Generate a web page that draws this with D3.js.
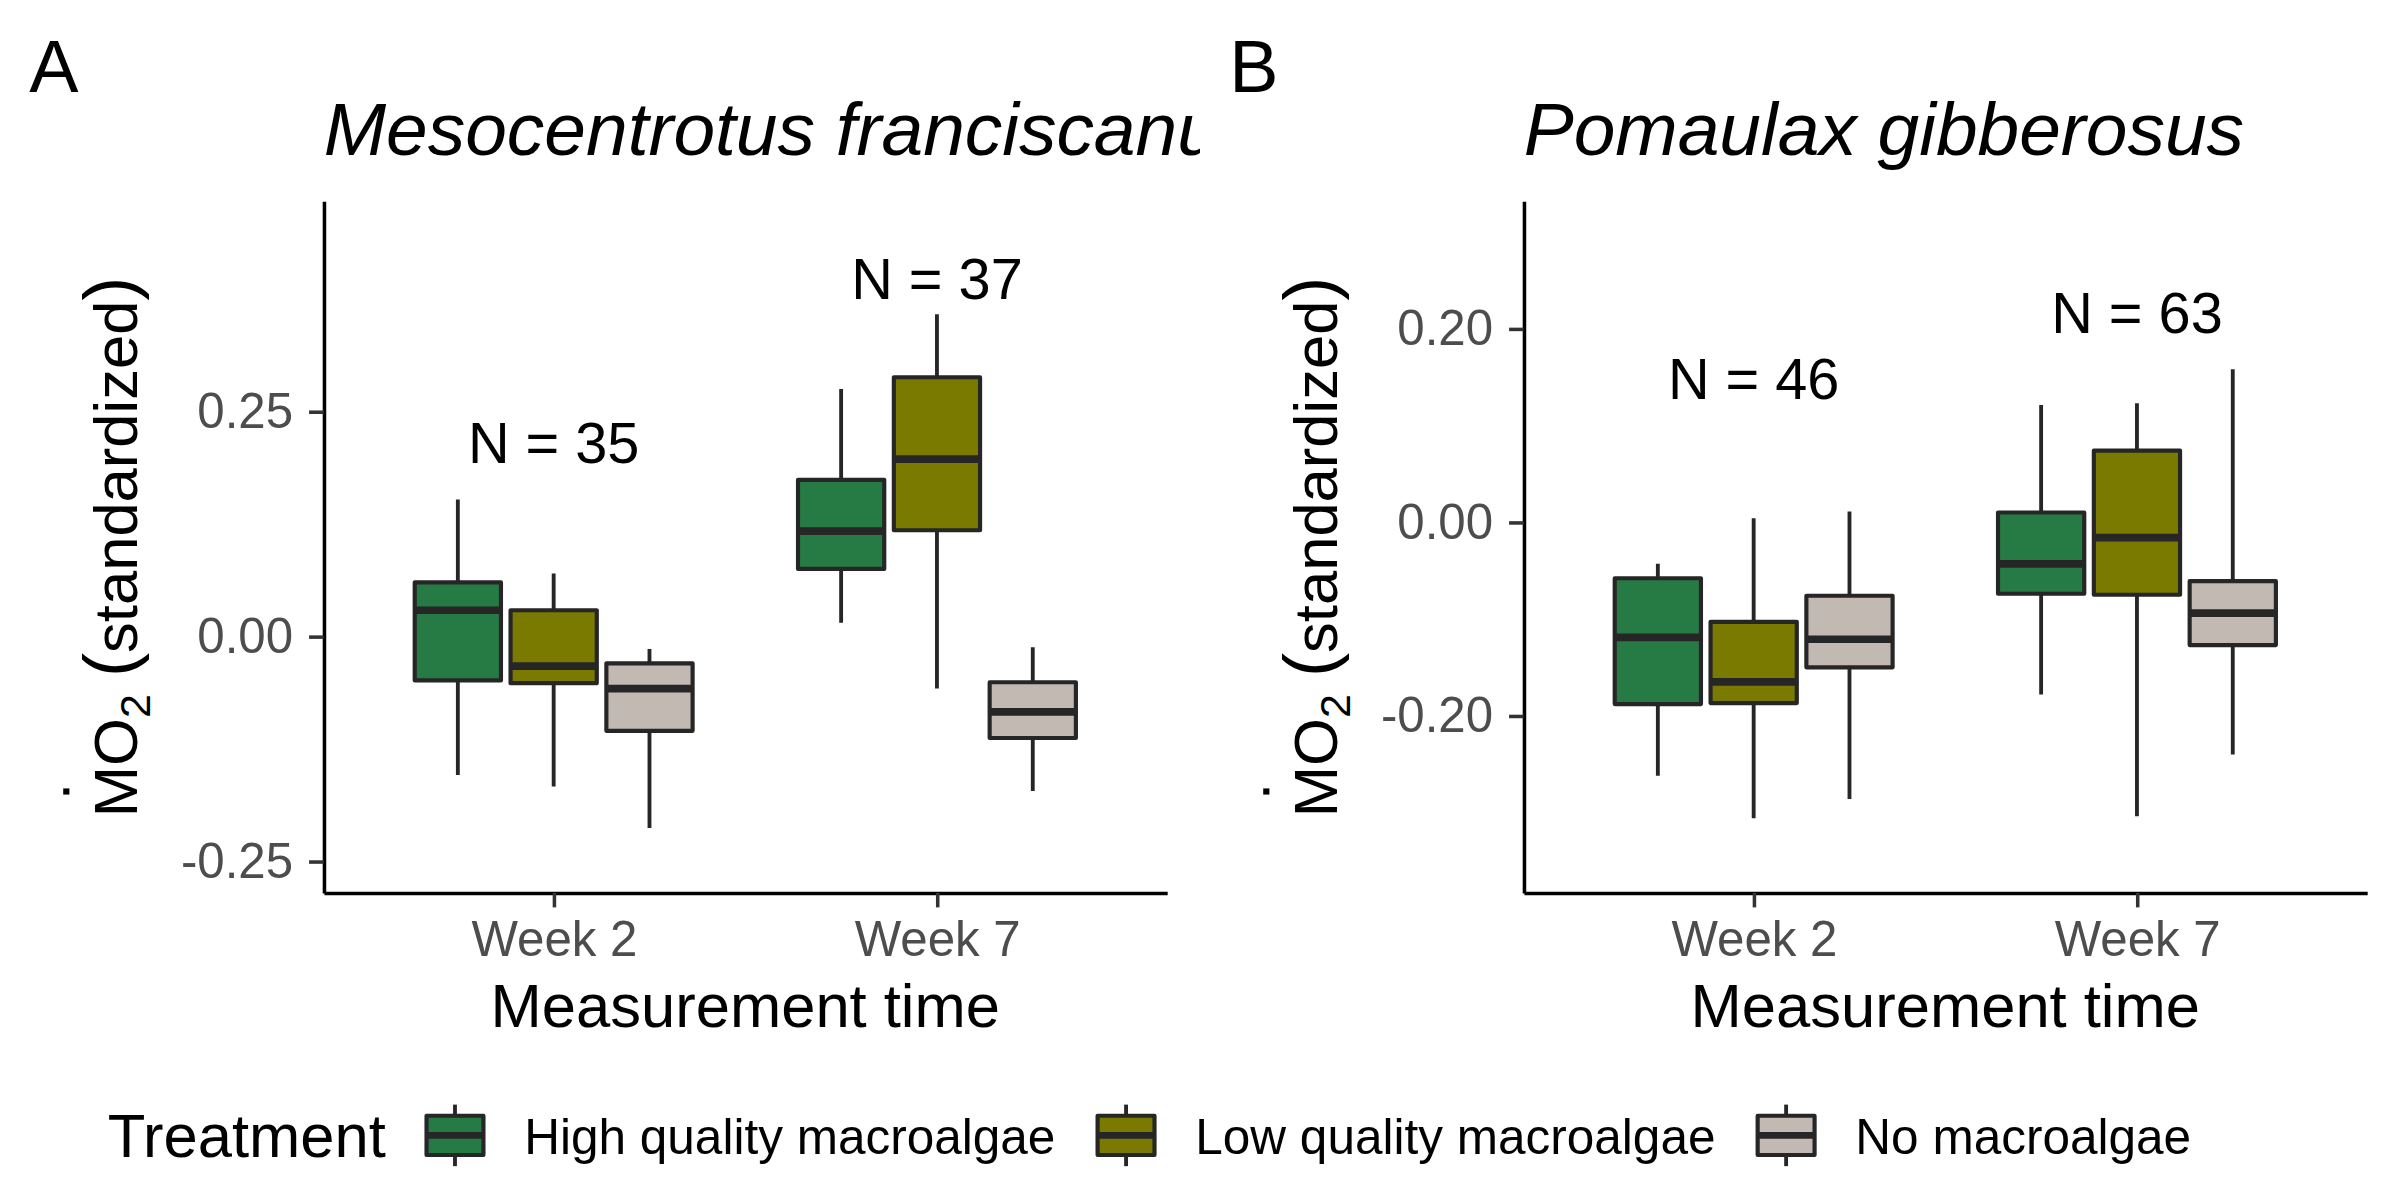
<!DOCTYPE html>
<html>
<head>
<meta charset="utf-8">
<script src="https://cdn.jsdelivr.net/npm/d3@7"></script>
<style>
  body { margin: 0; background: #fff; }
  svg { display: block; font-family: "Liberation Sans", Arial, sans-serif; }
</style>
</head>
<body>
<svg width="2400" height="1200" viewBox="0 0 1560 780"></svg>
<script>
const weeks = ["Week 2", "Week 7"];
const treatments = ["High quality macroalgae", "Low quality macroalgae", "No macroalgae"];
const treatmentFills = ["#267b45", "#7a7900", "#c2b9b2"];

// [lower whisker, Q1, median, Q3, upper whisker]
// order: week 2 (high, low, none), week 7 (high, low, none)
const urchinBoxes = [
  [-0.154, -0.049, 0.029, 0.060, 0.152],
  [-0.167, -0.052, -0.033, 0.029, 0.070],
  [-0.213, -0.105, -0.058, -0.030, -0.014],
  [0.015, 0.075, 0.117, 0.174, 0.275],
  [-0.058, 0.118, 0.197, 0.288, 0.358],
  [-0.172, -0.113, -0.084, -0.051, -0.012]
];
const snailBoxes = [
  [-0.262, -0.188, -0.119, -0.058, -0.043],
  [-0.306, -0.187, -0.165, -0.103, 0.004],
  [-0.286, -0.150, -0.121, -0.076, 0.011],
  [-0.178, -0.074, -0.043, 0.010, 0.121],
  [-0.304, -0.075, -0.016, 0.074, 0.123],
  [-0.240, -0.127, -0.094, -0.061, 0.158]
];

const urchinCounts = [35, 37];
const snailCounts = [46, 63];
const urchinCountY = [0.216, 0.398];
const snailCountY = [0.149, 0.217];

const urchinTicks = [-0.25, 0, 0.25];
const snailTicks = [-0.2, 0, 0.2];
const urchinLimits = [-0.285, 0.484];
const snailLimits = [-0.383, 0.332];

const panels = [
  { tag: "A", title: "Mesocentrotus franciscanus", boxes: urchinBoxes, counts: urchinCounts,
    countY: urchinCountY, ticks: urchinTicks, limits: urchinLimits },
  { tag: "B", title: "Pomaulax gibberosus", boxes: snailBoxes, counts: snailCounts,
    countY: snailCountY, ticks: snailTicks, limits: snailLimits }
];

const svg = d3.select("svg");
const panelW = 780;
const plot = { left: 210.4, right: 758.5, top: 130.6, bottom: 580.3 };
const outline = "#262626";

svg.append("defs").append("clipPath").attr("id", "panelClip")
  .append("rect").attr("x", 0).attr("y", 0).attr("width", panelW).attr("height", 780);

panels.forEach(function(p, pi) {
  const g = svg.append("g")
    .attr("transform", `translate(${pi * panelW},0)`)
    .attr("clip-path", "url(#panelClip)");

  const x = d3.scalePoint().domain(weeks).range([plot.left, plot.right]).padding(0.6);
  const step = x.step();
  const dodge = d3.scaleBand().domain(treatments)
    .range([-0.375 * step, 0.375 * step]).paddingInner(0.1).paddingOuter(0.05);
  const bw = dodge.bandwidth();
  const y = d3.scaleLinear().domain(p.limits).range([plot.bottom, plot.top]);

  // tag and title
  g.append("text").attr("x", 19).attr("y", 59.7)
    .attr("font-size", 48).text(p.tag);
  g.append("text").attr("x", plot.left).attr("y", 100.7)
    .attr("font-size", 48.7).attr("font-style", "italic").text(p.title);

  // axes
  const yAxis = d3.axisLeft(y).tickValues(p.ticks).tickFormat(d => d.toFixed(2))
    .tickSize(9.5).tickSizeOuter(0).tickPadding(10.4);
  const xAxis = d3.axisBottom(x).tickSize(9.5).tickSizeOuter(0).tickPadding(8.9);

  const ya = g.append("g").attr("transform", `translate(${plot.left},0)`).call(yAxis);
  const xa = g.append("g").attr("transform", `translate(0,${plot.bottom})`).call(xAxis);
  [ya, xa].forEach(a => {
    a.select(".domain").attr("stroke", "#000").attr("stroke-width", 2.3);
    a.selectAll(".tick line").attr("stroke", "#333").attr("stroke-width", 2.3);
    a.selectAll(".tick text").attr("fill", "#4d4d4d").attr("font-size", 32)
      .attr("font-family", "Liberation Sans, Arial, sans-serif");
  });

  // boxes
  const rows = p.boxes.map((s, i) => ({
    week: weeks[Math.floor(i / 3)], treatment: treatments[i % 3], fill: treatmentFills[i % 3], s: s
  }));
  const box = g.selectAll("g.box").data(rows).enter().append("g").attr("class", "box")
    .attr("transform", d => `translate(${x(d.week) + dodge(d.treatment) + bw / 2},0)`);
  box.append("line")
    .attr("y1", d => y(d.s[0])).attr("y2", d => y(d.s[4]))
    .attr("stroke", outline).attr("stroke-width", 2.5);
  box.append("rect")
    .attr("x", -bw / 2).attr("width", bw)
    .attr("y", d => y(d.s[3])).attr("height", d => y(d.s[1]) - y(d.s[3]))
    .attr("fill", d => d.fill).attr("stroke", outline).attr("stroke-width", 2.7)
    .attr("stroke-linejoin", "round");
  box.append("line")
    .attr("x1", -bw / 2).attr("x2", bw / 2)
    .attr("y1", d => y(d.s[2])).attr("y2", d => y(d.s[2]))
    .attr("stroke", outline).attr("stroke-width", 5);

  // sample sizes
  g.selectAll("text.count").data(weeks).enter().append("text").attr("class", "count")
    .attr("x", d => x(d)).attr("y", (d, i) => y(p.countY[i]))
    .attr("dy", "0.36em").attr("text-anchor", "middle").attr("font-size", 37.5)
    .text((d, i) => "N = " + p.counts[i]);

  // x axis title
  g.append("text").attr("x", (plot.left + plot.right) / 2).attr("y", 667.4)
    .attr("text-anchor", "middle").attr("font-size", 40).text("Measurement time");

  // y axis title with dotted M and subscript
  const yt = g.append("g").attr("transform", `translate(89.3,${(plot.top + plot.bottom) / 2}) rotate(-90)`);
  const t = yt.append("text").attr("font-size", 40);
  t.append("tspan").text("M");
  t.append("tspan").text("O");
  t.append("tspan").attr("font-size", 28).attr("dy", 8).text("2");
  t.append("tspan").attr("dy", -8).text(" ");
  t.append("tspan").attr("font-size", 47).attr("dy", -2).text("(");
  t.append("tspan").attr("dy", 2).text("standardized");
  t.append("tspan").attr("font-size", 47).attr("dy", -2).text(")");
  const len = t.node().getComputedTextLength();
  t.attr("x", -len / 2);
  const mW = t.node().getSubStringLength(0, 1);
  yt.append("rect").attr("x", -len / 2 + mW / 2 - 2).attr("y", -48.2)
    .attr("width", 4).attr("height", 4).attr("fill", "#000");
});

// legend
const leg = svg.append("g");
const legTitle = leg.append("text").attr("x", 70).attr("y", 752.3)
  .attr("font-size", 40).text("Treatment");
let cursor = 70 + legTitle.node().getComputedTextLength() + 26.5;
const keyW = 37, keyH = 25.5, keyMid = 738;
treatments.forEach(function(name, i) {
  const k = leg.append("g").attr("transform", `translate(${cursor},0)`);
  k.append("line").attr("x1", keyW / 2).attr("x2", keyW / 2)
    .attr("y1", keyMid - 20).attr("y2", keyMid + 20)
    .attr("stroke", outline).attr("stroke-width", 2.5);
  k.append("rect").attr("x", 0).attr("y", keyMid - keyH / 2).attr("width", keyW).attr("height", keyH)
    .attr("fill", treatmentFills[i]).attr("stroke", outline).attr("stroke-width", 2.7)
    .attr("stroke-linejoin", "round");
  k.append("line").attr("x1", 0).attr("x2", keyW).attr("y1", keyMid).attr("y2", keyMid)
    .attr("stroke", outline).attr("stroke-width", 4.5);
  cursor += keyW + 26.5;
  const lbl = leg.append("text").attr("x", cursor).attr("y", 750.1)
    .attr("font-size", 32.2).text(name);
  cursor += lbl.node().getComputedTextLength() + 27.4;
});
</script>
</body>
</html>
